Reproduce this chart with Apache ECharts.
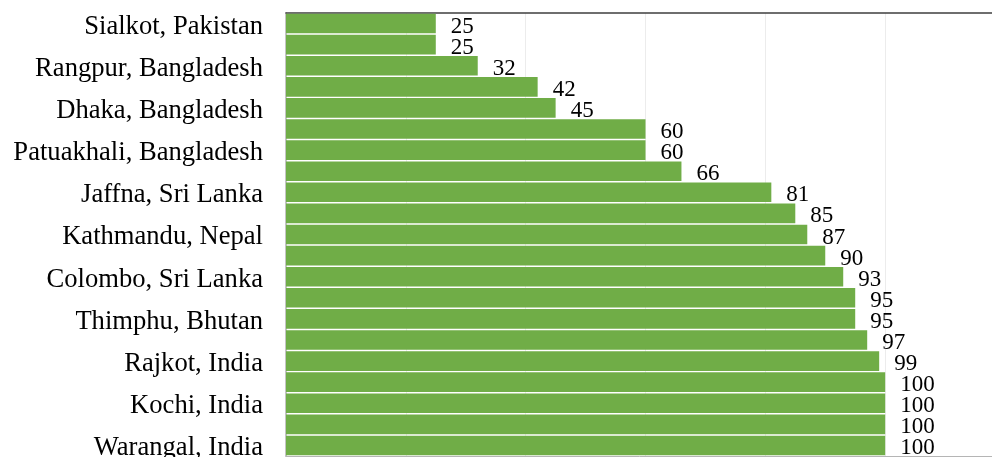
<!DOCTYPE html>
<html>
<head>
<meta charset="utf-8">
<script src="https://cdn.jsdelivr.net/npm/echarts@6/dist/echarts.min.js"></script>
<style>
  html, body { margin: 0; padding: 0; background: #ffffff; }
  #chart { width: 992px; height: 457px; }
</style>
</head>
<body>
<div id="chart"></div>
<script>
// Cities, top to bottom
const cities = [
  'Sialkot, Pakistan', 'Lahore, Pakistan',
  'Rangpur, Bangladesh', 'Khulna, Bangladesh',
  'Dhaka, Bangladesh', 'Barisal, Bangladesh',
  'Patuakhali, Bangladesh', 'Chittagong, Bangladesh',
  'Jaffna, Sri Lanka', 'Pokhara, Nepal',
  'Kathmandu, Nepal', 'Kandy, Sri Lanka',
  'Colombo, Sri Lanka', 'Paro, Bhutan',
  'Thimphu, Bhutan', 'Pune, India',
  'Rajkot, India', 'Chennai, India',
  'Kochi, India', 'Nagpur, India',
  'Warangal, India'
];

// Score per city
const scores = [25, 25, 32, 42, 45, 60, 60, 66, 81, 85, 87, 90, 93, 95, 95, 97, 99, 100, 100, 100, 100];

const serif = '"Liberation Serif", "Times New Roman", serif';

const chart = echarts.init(document.getElementById('chart'), null, { renderer: 'canvas' });

chart.setOption({
  animation: false,
  backgroundColor: '#ffffff',
  grid: {
    left: 286, top: 13, width: 719, height: 443,
    outerBoundsMode: 'none'
  },
  xAxis: [
    {
      type: 'value', min: 0, max: 120, interval: 20, position: 'bottom',
      axisLine: { show: true, lineStyle: { color: '#b5b5b5', width: 1 } },
      axisTick: { show: false },
      axisLabel: { show: false },
      splitLine: { show: true, lineStyle: { color: '#ececec', width: 1 } }
    },
    {
      type: 'value', min: 0, max: 120, interval: 20, position: 'top',
      axisLine: { show: true, lineStyle: { color: '#3f3f3f', width: 1.5 } },
      axisTick: { show: false },
      axisLabel: { show: false },
      splitLine: { show: false }
    }
  ],
  yAxis: {
    type: 'category',
    data: cities,
    inverse: true,
    axisLine: { show: true, lineStyle: { color: '#c4c4c4', width: 2 } },
    axisTick: { show: false },
    axisLabel: {
      interval: 1,
      margin: 23,
      color: '#000000',
      fontFamily: serif,
      fontSize: 26.6,
      verticalAlign: 'top',
      lineHeight: 6
    }
  },
  series: [{
    type: 'bar',
    data: scores,
    xAxisIndex: 0,
    barCategoryGap: '7%',
    itemStyle: { color: '#70ad47' },
    label: {
      show: true,
      position: 'right',
      distance: 15,
      offset: [0, 3],
      color: '#000000',
      fontFamily: serif,
      fontSize: 23
    }
  }]
});
</script>
</body>
</html>
